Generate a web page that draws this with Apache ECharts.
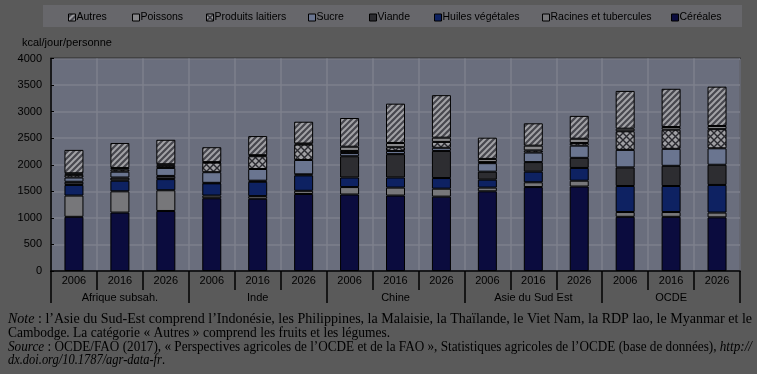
<!DOCTYPE html>
<html><head><meta charset="utf-8">
<script src="https://cdn.jsdelivr.net/npm/echarts@6/dist/echarts.min.js"></script>
<style>html,body{margin:0;padding:0;background:#5a5a5a;}#c{width:757px;height:374px;}</style>
</head><body><div id="c"></div>
<script>
const years = ['2006','2016','2026','2006','2016','2026','2006','2016','2026','2006','2016','2026','2006','2016','2026'];
const groups = ['Afrique subsah.','Inde','Chine','Asie du Sud Est','OCDE'];
const yTicks = [0,500,1000,1500,2000,2500,3000,3500,4000];
const cereales = [1020,1100,1130, 1370,1360,1450, 1440,1420,1400, 1500,1580,1590, 1020,1020,1010];
const racines  = [400,400,390, 50,50,60, 140,150,150, 70,90,110, 90,90,90];
const huiles   = [200,200,210, 230,270,290, 180,190,200, 150,200,240, 490,490,520];
const viande   = [60,60,60, 10,20,20, 400,440,510, 150,180,190, 350,380,380];
const sucre    = [80,110,150, 200,220,270, 60,60,60, 160,180,230, 330,320,310];
const laitiers = [50,40,40, 180,240,290, 40,70,110, 20,40,50, 350,360,360];
const poissons = [30,30,30, 10,20,20, 80,80,80, 60,90,80, 50,50,60];
const autres   = [440,470,460, 280,360,410, 540,740,800, 400,420,430, 710,720,740];

function hatch(){const c=document.createElement('canvas');c.width=c.height=6;const g=c.getContext('2d');
g.fillStyle='#47474e';g.fillRect(0,0,6,6);g.strokeStyle='#a2a2a6';g.lineWidth=2;g.beginPath();
g.moveTo(0,6);g.lineTo(6,0);g.moveTo(-1,1);g.lineTo(1,-1);g.moveTo(5,7);g.lineTo(7,5);g.stroke();return c;}
function cross(){const c=document.createElement('canvas');c.width=c.height=7;const g=c.getContext('2d');
g.fillStyle='#a0a0a4';g.fillRect(0,0,7,7);g.strokeStyle='#2a2a30';g.lineWidth=1.4;g.beginPath();
g.moveTo(0,0);g.lineTo(7,7);g.moveTo(0,7);g.lineTo(7,0);g.stroke();return c;}

const names = ['Céréales','Racines et tubercules','Huiles végétales','Viande','Sucre','Produits laitiers','Poissons','Autres'];
const vals = [cereales,racines,huiles,viande,sucre,laitiers,poissons,autres];
const cols = ['#0b0c3e','#77777a','#0e2262','#2d2d31','#6a7590',{image:cross(),repeat:'repeat'},'#87878a',{image:hatch(),repeat:'repeat'}];

const FN = "'Liberation Sans',Arial,sans-serif";
const series = names.map((n,i)=>({name:n,type:'bar',stack:'s',data:vals[i],barWidth:19,
  itemStyle:{color:cols[i],borderColor:'#000',borderWidth:1},emphasis:{disabled:true}}));

const legendOrder = ['Autres','Poissons','Produits laitiers','Sucre','Viande','Huiles végétales','Racines et tubercules','Céréales'];
const legendX = [68,132,206,308,369,434,542,671];
const legends = legendOrder.map((n,i)=>({data:[n],left:legendX[i],top:12,padding:0,itemWidth:7,itemHeight:7,
  icon:'rect',selectedMode:false,textStyle:{fontFamily:FN,fontSize:10.5,color:'#000',padding:[0,0,0,-4]},
  itemStyle:{borderColor:'#000',borderWidth:1}}));

const serif = "'Liberation Serif','DejaVu Serif',serif";
const NFS = 14;
const rich = {i:{fontStyle:'italic',fontFamily:serif,fontSize:NFS}};
const noteLines = [
 '{i|Note} : l’Asie du Sud-Est comprend l’Indonésie, les Philippines, la Malaisie, la Thaïlande, le Viet Nam, la RDP lao, le Myanmar et le',
 'Cambodge. La catégorie « Autres » comprend les fruits et les légumes.',
 '{i|Source} : OCDE/FAO (2017), « Perspectives agricoles de l’OCDE et de la FAO », Statistiques agricoles de l’OCDE (base de données), {i|http://}',
 '{i|dx.doi.org/10.1787/agr-data-fr}.'
];
const noteW = [744,382,744,157];
const noteY = [326,340,354,367];
const mctx = document.createElement('canvas').getContext('2d');
function fitScale(t,w){
  let total=0;
  t.split(/(\{i\|[^}]*\})/).forEach(p=>{ if(!p) return;
    const m=p.match(/^\{i\|([^}]*)\}$/);
    mctx.font=(m?'italic ':'')+NFS+'px '+serif; total+=mctx.measureText(m?m[1]:p).width;});
  return w/total;
}

const chart = echarts.init(document.getElementById('c'),null,{renderer:'canvas'});
chart.setOption({
  backgroundColor:'#5a5a5a',
  animation:false,
  grid:{left:51,right:17,top:58.5,bottom:103,show:true,backgroundColor:'#6a6e7d',borderColor:'#000',borderWidth:1.5},
  legend:legends,
  xAxis:[
    {type:'category',data:years,position:'bottom',
     axisLine:{lineStyle:{color:'#000',width:1.5}},
     axisTick:{show:true,length:19,lineStyle:{color:'#000',width:1.5}},
     axisLabel:{margin:4,fontFamily:FN,fontSize:11,color:'#000'},
     splitLine:{show:true,interval:0,lineStyle:{color:'#7e818d',width:1.5}}},
    {type:'category',data:groups,position:'bottom',offset:19,
     axisLine:{show:false},
     axisTick:{show:true,length:13,lineStyle:{color:'#000',width:1.5}},
     axisLabel:{margin:2,fontFamily:FN,fontSize:11,color:'#000'}}
  ],
  yAxis:{type:'value',min:yTicks[0],max:yTicks[yTicks.length-1],interval:500,
    axisLine:{show:true,lineStyle:{color:'#000',width:1.5}},
    axisTick:{show:true,inside:true,length:3,lineStyle:{color:'#000'}},
    axisLabel:{margin:9,fontFamily:FN,fontSize:11,color:'#000',formatter:v=>String(v)},
    splitLine:{show:true,lineStyle:{color:'#7e818d',width:1.5}}},
  series:series,
  graphic:[
    {type:'rect',z:-1,shape:{x:43,y:5,width:699,height:22},style:{fill:'#67676b'}},
    {type:'text',style:{x:22,y:43,text:'kcal/jour/personne',font:"11px "+FN,fill:'#000',verticalAlign:'middle'}},
  ].concat(noteLines.map((t,i)=>({type:'text',x:8,y:noteY[i],scaleX:fitScale(t,noteW[i]),
     style:{x:0,y:0,text:t,rich:rich,fontFamily:serif,fontSize:NFS,fill:'#000',verticalAlign:'bottom'}})))
});
</script></body></html>
